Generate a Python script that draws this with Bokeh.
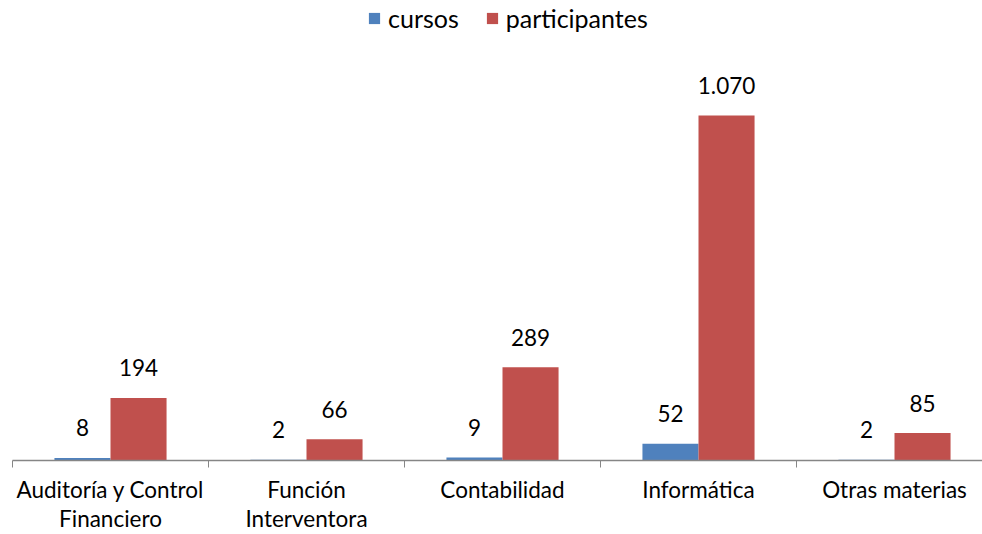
from bokeh.plotting import figure
from bokeh.models import ColumnDataSource, Range1d, FixedTicker, Legend, LegendItem
from bokeh.core.properties import value
from bokeh.embed import file_html
from bokeh.resources import INLINE

categories = ["Auditoría y Control\nFinanciero", "Función\nInterventora", "Contabilidad", "Informática", "Otras materias"]
cursos = [8, 2, 9, 52, 2]
participantes = [194, 66, 289, 1070, 85]

FONT = "Lato"
BLUE = "#4F81BD"
RED = "#C0504D"

def fmt(v):
    return f"{v:,}".replace(",", ".")

x = list(range(len(categories)))
bw = 0.286
src_c = ColumnDataSource(dict(x=[i - bw / 2 for i in x], top=cursos, lab=[fmt(v) for v in cursos]))
src_p = ColumnDataSource(dict(x=[i + bw / 2 for i in x], top=participantes, lab=[fmt(v) for v in participantes]))

p = figure(width=982, height=534, output_backend="svg", toolbar_location=None,
           x_range=Range1d(-0.5, -0.5 + 970 / 196), y_range=Range1d(0, 460 / 0.3224),
           min_border_left=12, min_border_right=0, min_border_top=0, min_border_bottom=74)
p.outline_line_color = None
p.grid.visible = False
p.yaxis.visible = False

r_c = p.vbar(x="x", top="top", width=bw, source=src_c, fill_color=BLUE, line_color=None)
r_p = p.vbar(x="x", top="top", width=bw, source=src_p, fill_color=RED, line_color=None)

for src in (src_c, src_p):
    p.text(x="x", y="top", text="lab", source=src, text_align="center", text_baseline="alphabetic",
           y_offset=-30, text_font=value(FONT), text_font_size="22.5px", text_color="#000000")

xa = p.xaxis[0]
xa.ticker = FixedTicker(ticks=x, minor_ticks=[i - 0.5 for i in range(len(categories) + 1)])
xa.major_label_overrides = {i: c for i, c in zip(x, categories)}
xa.major_tick_in = 0
xa.major_tick_out = 0
xa.minor_tick_in = 0
xa.minor_tick_out = 7
xa.minor_tick_line_color = "#868686"
xa.axis_line_color = "#868686"
xa.axis_line_width = 1.5
xa.major_label_text_font = FONT
xa.major_label_text_font_size = "22.5px"
xa.major_label_text_line_height = 1.08
xa.major_label_text_color = "#000000"
xa.major_label_standoff = 8

legend = Legend(items=[LegendItem(label="cursos", renderers=[r_c]),
                       LegendItem(label="participantes", renderers=[r_p])],
                location=(355, 427), orientation="horizontal",
                label_text_font=FONT, label_text_font_size="25px", label_text_color="#000000",
                glyph_width=14, glyph_height=14, label_standoff=7, spacing=26,
                border_line_color=None, background_fill_alpha=0, padding=6, margin=0)
p.add_layout(legend)

open("out.html", "w").write(file_html(p, INLINE))
